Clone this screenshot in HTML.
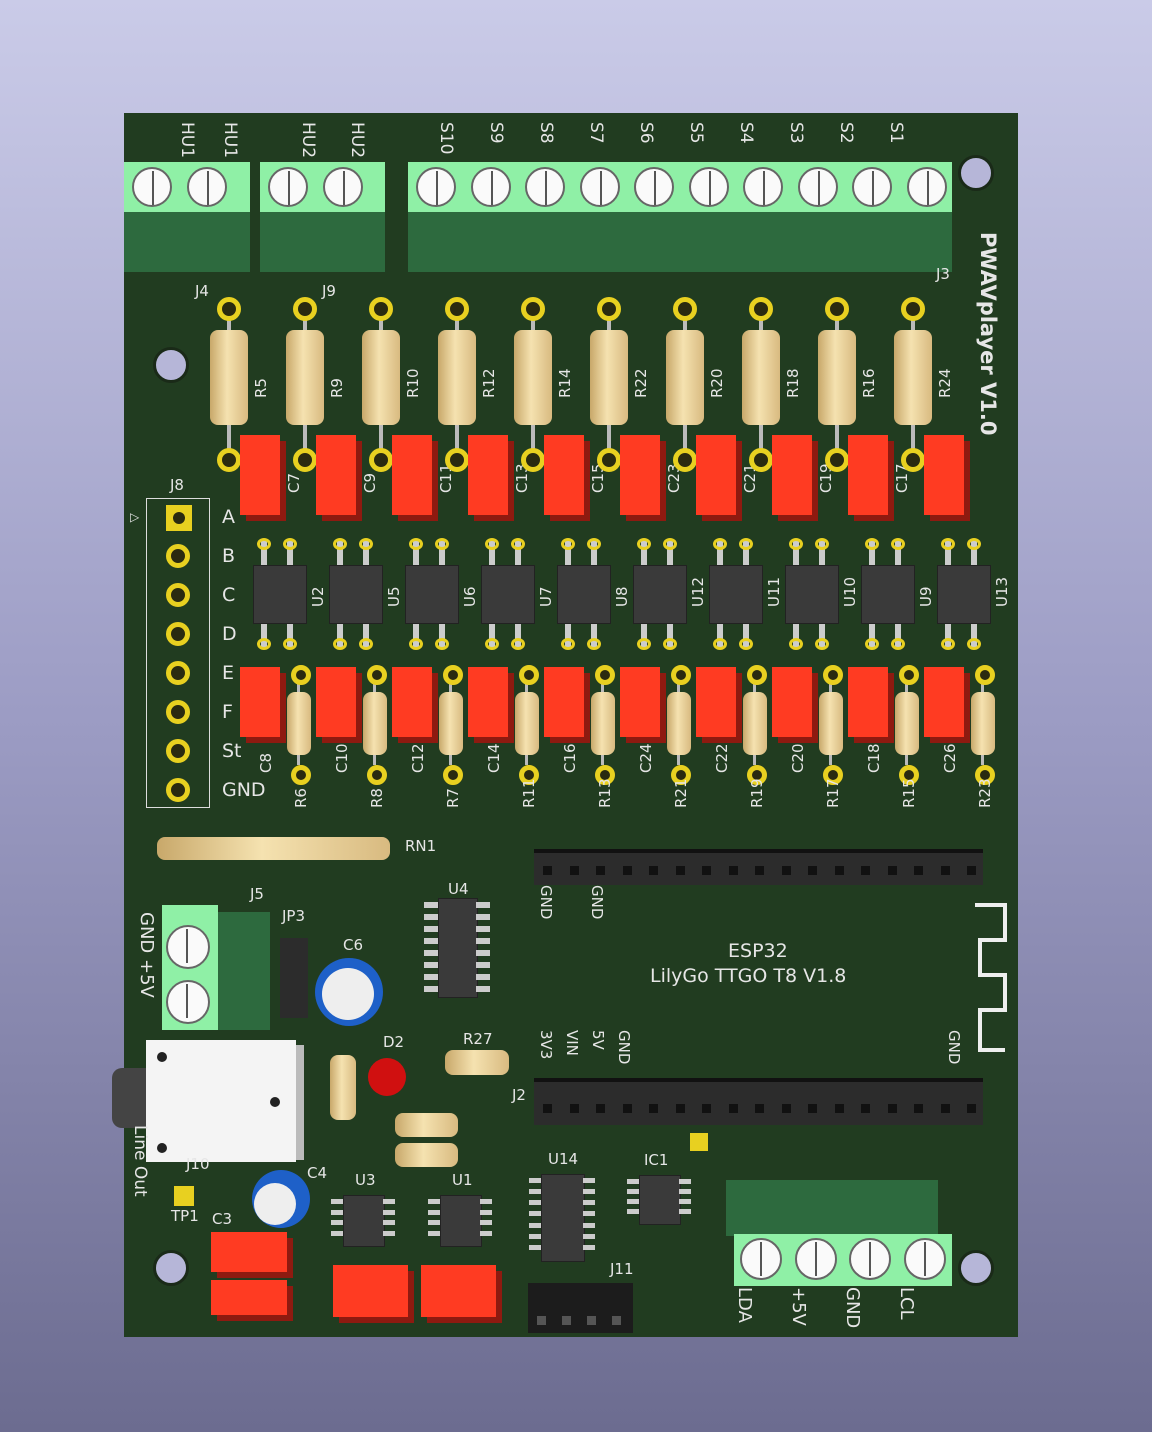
<!DOCTYPE html>
<html><head><meta charset="utf-8"><style>
html,body{margin:0;padding:0}
body{width:1152px;height:1432px;position:relative;overflow:hidden;background:linear-gradient(#cacbe8,#9c9cc4 50%,#6c6c90);font-family:"DejaVu Sans","Liberation Sans",sans-serif}
.a{position:absolute}
#b{left:124px;top:113px;width:894px;height:1224px;background:#213c20}
.t{color:#e6e6e6;font-size:15px;position:absolute;white-space:nowrap;line-height:18px}
.rv{transform:rotate(90deg);transform-origin:0 0}
.rl{transform:rotate(-90deg);transform-origin:0 0}
.res{background:linear-gradient(90deg,#c8a86a,#f5e2b0 45%,#d8ba80);border-radius:8px;position:absolute}
.pad{position:absolute;width:14px;height:14px;border:5px solid #e8d020;border-radius:50%;background:#2a2a10}
.cap{position:absolute;background:#ff3b22;box-shadow:6px 6px 0 #8e1a10}
.ic{position:absolute;background:#3a3a3a;border:1px solid #222}
.scr{position:absolute;width:40px;height:40px;border-radius:50%;background:#fafafa;border:2px solid #666;box-sizing:border-box}
.scr:after{content:"";position:absolute;left:18px;top:2px;width:2px;height:34px;background:#555}
.hole{position:absolute;width:30px;height:30px;border-radius:50%;background:#b6b6d8;border:3px solid #1a2a18}
</style></head><body>
<div id="b" class="a"></div>
<div id="c"></div>
<script>
var h='';
function A(s){h+=s}
function d(cls,x,y,w,hh,st){A('<div class="'+cls+'" style="left:'+x+'px;top:'+y+'px;width:'+w+'px;height:'+hh+'px;'+(st||'')+'"></div>')}
function T(x,y,s,cls,fs,ex){A('<div class="t '+(cls||'')+'" style="left:'+x+'px;top:'+y+'px;'+(fs?'font-size:'+fs+'px;line-height:'+(fs+3)+'px;':'')+(ex||'')+'">'+s+'</div>')}
[[153,347],[958,155],[153,1250],[958,1250]].forEach(p=>d('hole',p[0],p[1],30,30));
function tb(x,w,n,lbls,lx){d('a',x,212,w,60,'background:#2d6a3e');d('a',x,162,w,50,'background:#8ff0a6');
 for(var i=0;i<n;i++){d('scr',x+8+i*54.5,167,40,40);}
 lbls.forEach((l,i)=>T(lx[i],122,l,'rv',17));}
tb(124,126,2,['HU1','HU1'],[197,240]);tb(260,125,2,['HU2','HU2'],[318,367]);
var sl=[];for(var i=0;i<10;i++)sl.push(456+i*50);
tb(408,544,10,['S10','S9','S8','S7','S6','S5','S4','S3','S2','S1'],sl);
T(195,282,'J4');T(322,282,'J9');T(936,265,'J3');
T(1000,232,'PWAVplayer V1.0','rv',21,'font-weight:bold');
var rn=['R5','R9','R10','R12','R14','R22','R20','R18','R16','R24'];
var cn=['C7','C9','C11','C13','C15','C23','C21','C19','C17',''];
var un=['U2','U5','U6','U7','U8','U12','U11','U10','U9','U13'];
var cl=['C8','C10','C12','C14','C16','C24','C22','C20','C18','C26'];
var rl=['R6','R8','R7','R11','R13','R21','R19','R17','R15','R23'];
for(var i=0;i<10;i++){var x=229+i*76;
 d('a',x-2,320,4,130,'background:#bbb');
 d('res',x-19,330,38,95);
 d('pad',x-12,297,14,14);d('pad',x-12,448,14,14);
 T(x+23,398,rn[i],'rl');
 d('cap',x+11,435,40,80);
 if(cn[i])T(x+56,493,cn[i],'rl');
 var ix=x+24;
 for(var k=0;k<2;k++){d('a',ix+8+k*26,540,6,25,'background:#ccc');d('a',ix+8+k*26,622,6,26,'background:#ccc');d('a',ix+4+k*26,538,14,12,'border:3px solid #e8d020;border-radius:50%;box-sizing:border-box');d('a',ix+4+k*26,638,14,12,'border:3px solid #e8d020;border-radius:50%;box-sizing:border-box')}
 d('ic',ix,565,52,57);
 T(ix+56,607,un[i],'rl');
 d('cap',x+11,667,40,70);
 T(x+28,773,cl[i],'rl');
 d('a',x+68,680,3,85,'background:#bbb');
 d('res',x+58,692,24,63);
 d('pad',x+62,665,10,10);d('pad',x+62,765,10,10);
 T(x+63,808,rl[i],'rl');
}
d('a',146,498,64,310,'border:1px solid #ddd;box-sizing:border-box');T(170,476,'J8');T(130,510,'▷','',12);
d('a',166,505,26,26,'background:#e8d020');d('a',173,512,12,12,'border-radius:50%;background:#2a2a10');
['A','B','C','D','E','F','St','GND'].forEach((l,i)=>{if(i>0)d('pad',166,544+(i-1)*39,14,14);T(222,506+i*39,l,'',19)});
d('res',157,837,233,23);T(405,837,'RN1');
d('a',534,853,449,32,'background:#2c2c2c;box-shadow:0 -4px 0 #111');
d('a',534,1082,449,43,'background:#2c2c2c;box-shadow:0 -4px 0 #111');
for(var i=0;i<17;i++){d('a',543+i*26.5,866,9,9,'background:#111');d('a',543+i*26.5,1104,9,9,'background:#111')}
T(555,885,'GND','rv');T(606,885,'GND','rv');
T(728,940,'ESP32','',19);T(650,965,'LilyGo TTGO T8 V1.8','',19);
['3V3','VIN','5V','GND'].forEach((l,i)=>T(555+i*26,1030,l,'rv'));T(963,1030,'GND','rv');T(512,1086,'J2');
A('<svg class="a" style="left:970px;top:900px" width="40" height="160"><path d="M5 5H35V40H10V75H35V110H10V150H35" fill="none" stroke="#eee" stroke-width="4"/></svg>');
d('ic',438,898,38,98);T(448,880,'U4');
for(var i=0;i<8;i++){d('a',424,902+i*12,14,6,'background:#ccc');d('a',476,902+i*12,14,6,'background:#ccc')}
d('a',162,905,56,125,'background:#8ff0a6');d('a',218,912,52,118,'background:#2d6a3e');
d('scr',166,925,44,44);d('scr',166,980,44,44);T(250,885,'J5');T(282,907,'JP3');
T(157,912,'GND +5V','rv',18);
d('a',280,938,28,80,'background:#2c2c2c');
d('a',315,958,68,68,'border-radius:50%;background:#1e60c8');d('a',322,968,52,52,'border-radius:50%;background:#eee');T(343,936,'C6');
d('a',112,1068,40,60,'background:#444;border-radius:10px 0 0 10px');
d('a',146,1040,150,122,'background:#f4f4f4');d('a',296,1045,8,115,'background:#bbb');
d('a',157,1052,10,10,'border-radius:50%;background:#222');d('a',270,1097,10,10,'border-radius:50%;background:#222');d('a',157,1143,10,10,'border-radius:50%;background:#222');
T(150,1125,'Line Out','rv',17);T(186,1155,'J10');
d('a',174,1186,20,20,'background:#e8d020');T(171,1207,'TP1');
d('a',252,1170,58,58,'border-radius:50%;background:#1e60c8');d('a',254,1183,42,42,'border-radius:50%;background:#eee');T(307,1164,'C4');
d('a',368,1058,38,38,'border-radius:50%;background:#d01010');T(383,1033,'D2');
d('res',330,1055,26,65);d('res',445,1050,64,25);T(463,1030,'R27');
d('res',395,1113,63,24);d('res',395,1143,63,24);
function soic(x,y,w,hh,n,l,lx){d('ic',x,y,w,hh);for(var i=0;i<n;i++){d('a',x-12,y+4+i*(hh-8)/n,12,5,'background:#ccc');d('a',x+w,y+4+i*(hh-8)/n,12,5,'background:#ccc')}T(lx,y-24,l)}
soic(343,1195,40,50,4,'U3',355);soic(440,1195,40,50,4,'U1',452);soic(541,1174,42,86,7,'U14',548);soic(639,1175,40,48,4,'IC1',644);
d('a',690,1133,18,18,'background:#e8d020');
T(212,1210,'C3');
d('cap',211,1232,76,40);d('cap',211,1280,76,35);d('cap',333,1265,75,52);d('cap',421,1265,75,52);
d('a',528,1283,105,50,'background:#1c1c1c');T(610,1260,'J11');
for(var i=0;i<4;i++)d('a',537+i*25,1316,9,9,'background:#555');
d('a',726,1180,212,56,'background:#2d6a3e');d('a',734,1234,218,52,'background:#8ff0a6');
for(var i=0;i<4;i++)d('scr',740+i*54.5,1238,42,42);
['LDA','+5V','GND','LCL'].forEach((l,i)=>T(755+i*54,1287,l,'rv',18));
document.getElementById('c').innerHTML=h;
</script>
</body></html>
